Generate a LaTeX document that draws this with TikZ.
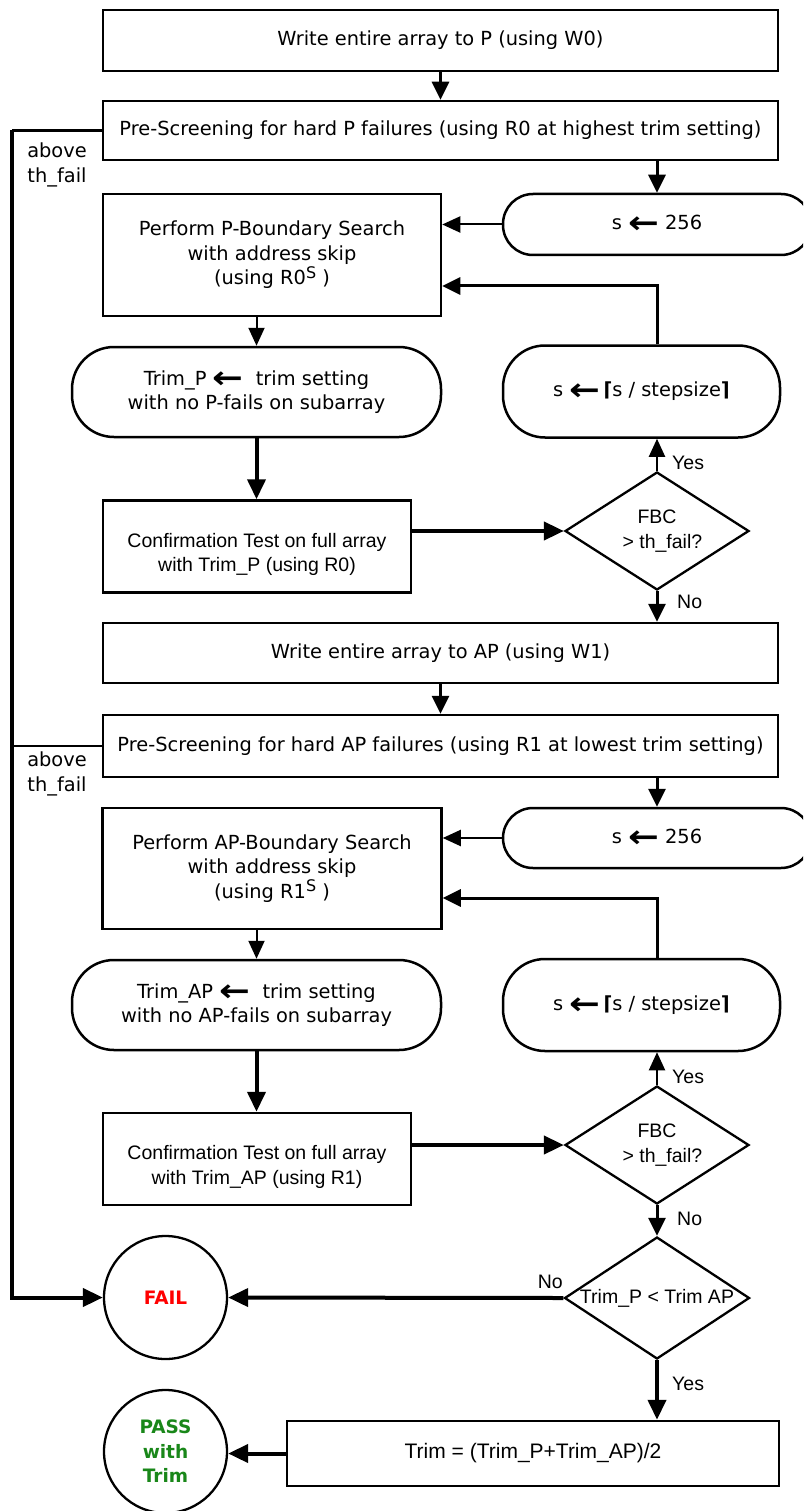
\documentclass[tikz,border=0pt]{standalone}
\usepackage{fontspec}
\setmainfont{DejaVu Sans}
\newfontfamily\libsans{Liberation Sans}
\usetikzlibrary{arrows.meta,shapes.geometric,calc}

\definecolor{failred}{RGB}{255,0,0}
\definecolor{passgreen}{RGB}{25,135,25}

% bold "gets" arrow and superscript used in the flow text
\newcommand\getsarrow{\raisebox{-0.35ex}{\scalebox{1.9}[1.6]{\bfseries ←}}}
\newcommand\supS{\raisebox{0.6ex}{\fontsize{16}{16}\selectfont S}}
\newcommand\djv{\fontsize{19.4}{24.5}\selectfont}
\newcommand\lib{\libsans\fontsize{19.5}{24.5}\selectfont}

\tikzset{
  base/.style={draw, line width=2.5pt, inner sep=0pt, align=center, font=\djv},
  procbox/.style={base, rectangle},
  termbox/.style={base, rectangle, rounded corners=30pt},
  bigterm/.style={base, rectangle, rounded corners=42pt},
  decision/.style={draw, line width=2.3pt, diamond, inner sep=0pt,
                   minimum width=184pt, minimum height=118pt},
  dtext/.style={inner sep=0pt, align=center, font=\lib},
  endcircle/.style={draw, line width=2.3pt, circle, minimum size=123pt,
                    inner sep=0pt, align=center, font=\fontsize{18.5}{24.5}\selectfont\bfseries},
  lbl/.style={inner sep=0pt, font=\lib},
  sidelbl/.style={inner sep=0pt, align=center, font=\djv},
  arr/.style={line width=2pt, -{Triangle[length=18pt,width=16pt]}},
  arrmid/.style={line width=3pt, -{Triangle[length=18pt,width=17pt]}},
  arrthick/.style={line width=4pt, -{Triangle[length=20pt,width=18pt]}},
  plainline/.style={line width=2.5pt},
  railline/.style={line width=4pt},
}

\begin{document}
\begin{tikzpicture}[x=1pt,y=-1pt]
\clip (0,0) rectangle (803,1511);

% ---------- P phase ----------
\node[procbox, minimum width=675pt, minimum height=61pt] (w0) at (440.5,40.5)
  {Write entire array to P (using W0)};
\node[procbox, minimum width=675pt, minimum height=59pt] (pre0) at (440.5,130.5)
  {Pre-Screening for hard P failures (using R0 at highest trim setting)};
\node[procbox, minimum width=338pt, minimum height=122pt] (bs0) at (272,255)
  {Perform P-Boundary Search\\with address skip\\(using R0\supS\ )};
\node[termbox, minimum width=308pt, minimum height=61pt] (s0) at (657,224.5)
  {s \getsarrow\ 256};
\node[bigterm, minimum width=369pt, minimum height=90pt] (tp) at (256.5,392)
  {Trim\_P \getsarrow\ \ trim setting\\with no P-fails on subarray};
\node[bigterm, minimum width=277pt, minimum height=92pt] (c0) at (641.5,391.5)
  {s \getsarrow\,{\bfseries ⌈}s / stepsize{\bfseries ⌉}};
\node[procbox, minimum width=308pt, minimum height=92pt] (ct0) at (257,546.5) {};
\node[dtext] (ct0t) at ($(ct0)+(0,8)$) {Confirmation Test on full array\\with Trim\_P (using R0)};
\node[decision] (d0) at (657,531) {};
\node[dtext] (d0t) at (d0) {FBC\\ \ \ > th\_fail?};

% ---------- AP phase ----------
\node[procbox, minimum width=675pt, minimum height=60pt] (w1) at (440.5,653)
  {Write entire array to AP (using W1)};
\node[procbox, minimum width=675pt, minimum height=62pt] (pre1) at (440.5,746)
  {Pre-Screening for hard AP failures (using R1 at lowest trim setting)};
\node[procbox, minimum width=339pt, minimum height=121pt] (bs1) at (272,868.5)
  {Perform AP-Boundary Search\\with address skip\\(using R1\supS\ )};
\node[termbox, minimum width=308pt, minimum height=60pt] (s1) at (657,838)
  {s \getsarrow\ 256};
\node[bigterm, minimum width=369pt, minimum height=90pt] (ta) at (256.5,1005)
  {Trim\_AP \getsarrow\ \ trim setting\\with no AP-fails on subarray};
\node[bigterm, minimum width=277pt, minimum height=92pt] (c1) at (641.5,1005)
  {s \getsarrow\,{\bfseries ⌈}s / stepsize{\bfseries ⌉}};
\node[procbox, minimum width=308pt, minimum height=92pt] (ct1) at (257,1159) {};
\node[dtext] (ct1t) at ($(ct1)+(0,8)$) {Confirmation Test on full array\\with Trim\_AP (using R1)};
\node[decision] (d1) at (657,1145) {};
\node[dtext] (d1t) at (d1) {FBC\\ \ \ > th\_fail?};

% ---------- final decision ----------
\node[decision, minimum width=185pt, minimum height=122pt] (d2) at (657,1298) {};
\node[dtext] (d2t) at (d2) {Trim\_P < Trim AP};
\node[endcircle, text=failred] (fail) at (165.5,1297.5) {FAIL};
\node[endcircle, text=passgreen] (pass) at (165.5,1451.5) {PASS\\with\\Trim};
\node[procbox, font=\libsans\fontsize{21}{24}\selectfont, minimum width=492pt, minimum height=65pt] (trim) at (533,1453.5)
  {Trim = (Trim\_P+Trim\_AP)/2};

% ---------- labels ----------
\node[sidelbl] (ab0) at (57,165) {above\\th\_fail};
\node[sidelbl] (ab1) at (57,774) {above\\th\_fail};
\node[lbl, anchor=west] (y0) at (672,463) {Yes};
\node[lbl, anchor=west] (n0) at (677,602) {No};
\node[lbl, anchor=west] (y1) at (672,1077) {Yes};
\node[lbl, anchor=west] (n1) at (677,1219) {No};
\node[lbl, anchor=east] (n2) at (563,1282) {No};
\node[lbl, anchor=west] (y2) at (672,1384) {Yes};

% ---------- P phase connectors ----------
\draw[arrmid] (w0.south) -- (pre0.north);
\draw[arrmid] (pre0.south -| s0.north) -- (s0.north);
\draw[arr] (s0.west) -- (bs0.east |- s0.west);
\coordinate (loop0) at (657,286);
\draw[arrmid] (c0.north -| s0.north) -- (loop0) -- (bs0.east |- loop0);
\draw[arr] (bs0.south -| tp.north) -- (tp.north);
\draw[arrthick] (tp.south) -- (ct0.north -| tp.south);
\draw[arrthick] (ct0.east |- d0.west) -- (d0.west);
\draw[arr] (d0.north) -- (c0.south -| d0.north);
\draw[arrmid] (d0.south) -- (w1.north -| d0.south);

% ---------- AP phase connectors ----------
\draw[arrmid] (w1.south) -- (pre1.north);
\draw[arrmid] (pre1.south -| s1.north) -- (s1.north);
\draw[arr] (s1.west) -- (bs1.east |- s1.west);
\coordinate (loop1) at (657,898);
\draw[arrmid] (c1.north -| s1.north) -- (loop1) -- (bs1.east |- loop1);
\draw[arr] (bs1.south -| ta.north) -- (ta.north);
\draw[arrthick] (ta.south) -- (ct1.north -| ta.south);
\draw[arrthick] (ct1.east |- d1.west) -- (d1.west);
\draw[arr] (d1.north) -- (c1.south -| d1.north);
\draw[arrmid] (d1.south) -- (d2.north);

% ---------- outcome connectors ----------
\draw[arrthick] (d2.west) -- (fail.east);
\draw[arrthick] (d2.south) -- (trim.north -| d2.south);
\draw[arrthick] (trim.west) -- (pass.east |- trim.west);

% ---------- early-fail rail ----------
\coordinate (rail0) at (12,130.5);
\coordinate (railb) at (12,1297.5);
\draw[plainline] (pre0.west) -- (rail0);
\draw[plainline] (pre1.west) -- (pre1.west -| rail0);
\draw[railline] (rail0) -- (railb);
\draw[arrthick] ([xshift=-2pt]railb) -- (fail.west);
\end{tikzpicture}
\end{document}
